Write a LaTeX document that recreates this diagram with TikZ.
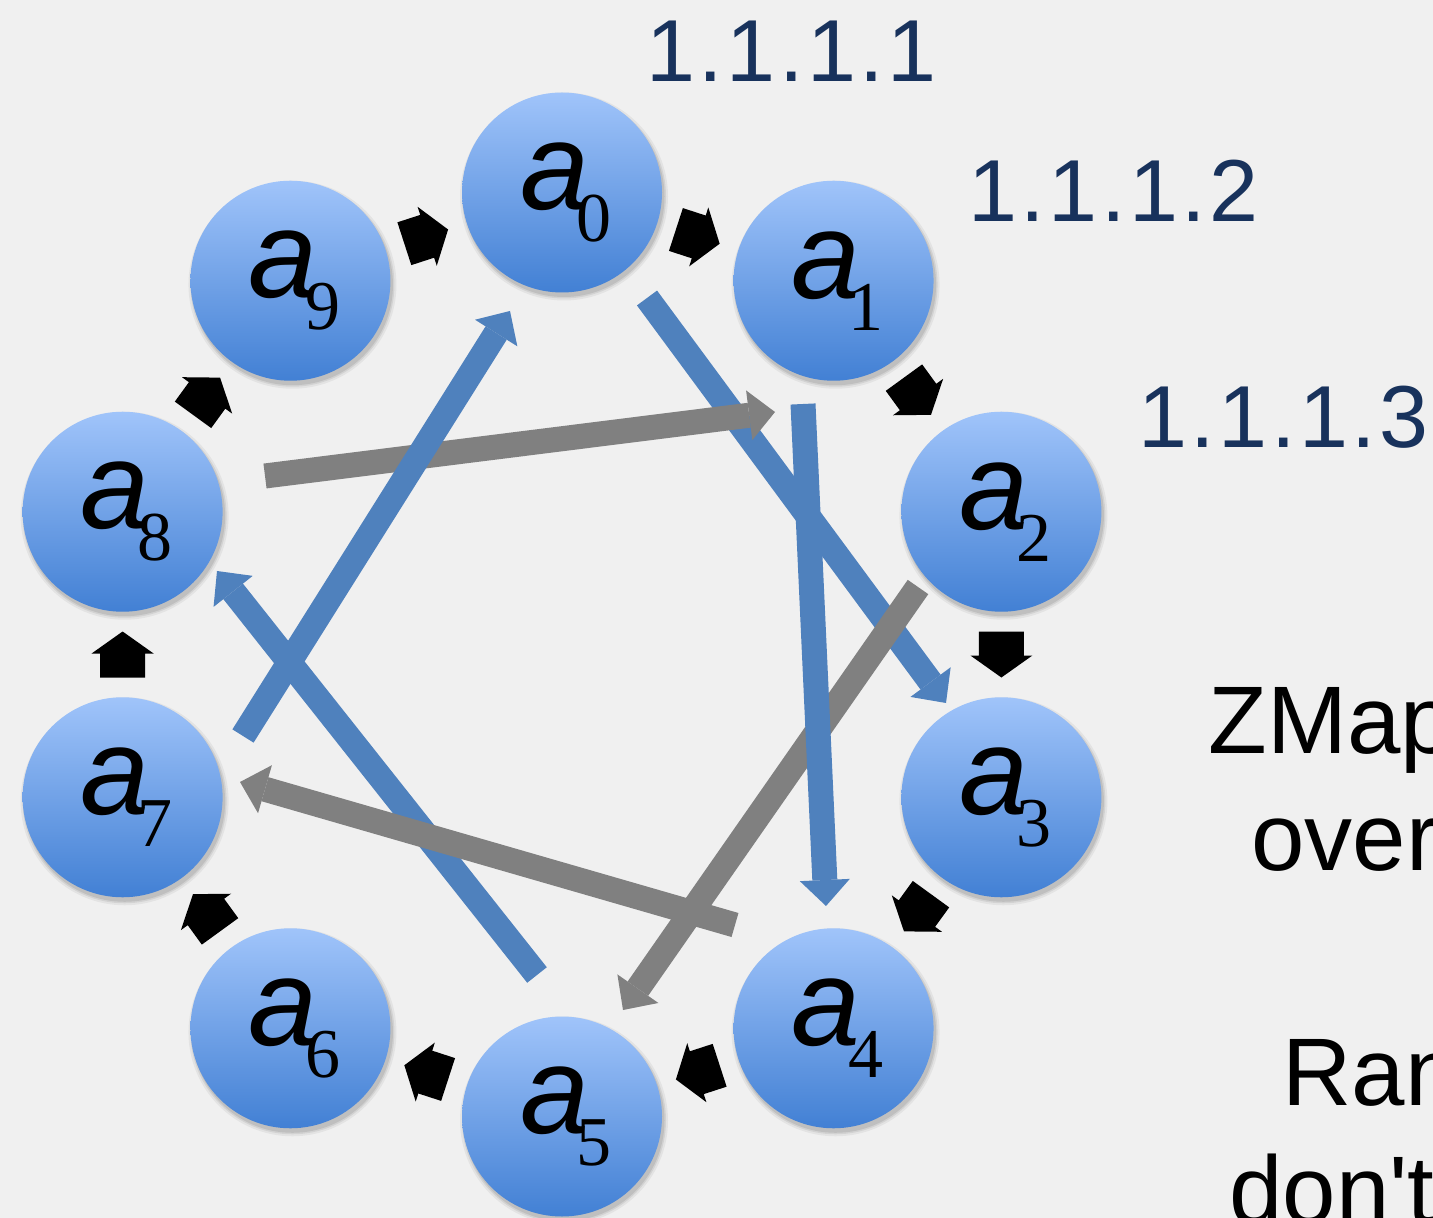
\documentclass[tikz,border=0pt]{standalone}
\usepackage{fontspec}
\setmainfont{Liberation Sans}
\newfontfamily\digitfont{Liberation Serif}
\usetikzlibrary{arrows.meta,calc}

\definecolor{bgcol}{RGB}{240,240,240}
\definecolor{balltop}{RGB}{160,196,250}
\definecolor{ballbot}{RGB}{66,128,212}
\definecolor{linkblue}{RGB}{79,129,189}
\definecolor{linkgray}{RGB}{128,128,128}
\definecolor{addrnavy}{RGB}{24,50,92}

% italic sans "a" with a serif digit hanging below as subscript
\newcommand\ballname[1]{\kern4pt{\fontsize{62pt}{62pt}\selectfont\itshape a}\kern-6pt\raisebox{-16pt}{\digitfont\fontsize{35pt}{35pt}\selectfont #1}}

\tikzset{
  ball/.style={circle, minimum size=100pt, inner sep=0pt, outer sep=0pt,
    top color=balltop, bottom color=ballbot, text=black},
  blockarrow/.style={fill=black},
  hoplink/.style={line width=12.5pt, -{Triangle[width=25pt,length=13pt,line width=0pt]}},
  bluelink/.style={hoplink, draw=linkblue},
  graylink/.style={hoplink, draw=linkgray},
  addr/.style={anchor=base west, inner sep=0pt, text=addrnavy,
    font=\fontsize{44pt}{44pt}\selectfont\addfontfeature{LetterSpace=4}},
  note/.style={anchor=base west, inner sep=0pt, text=black,
    font=\fontsize{48pt}{48pt}\selectfont},
}

\begin{document}
\begin{tikzpicture}[x=0.5pt, y=-0.5pt]
  % canvas
  \useasboundingbox (0,0) rectangle (1433,1218);
  \fill[bgcol] (0,0) rectangle (1433,1218);
  \clip (0,0) rectangle (1433,1218);

  % soft shadows under the ring of balls
  \foreach \k in {0,...,9} {
    \foreach \r/\o in {104/0.05,102/0.07,100.5/0.09}
      \fill[black, opacity=\o] ({562+462*cos(90-36*\k)+2}, {654.5-462*sin(90-36*\k)+4}) circle[radius=\r];
  }

  % the ring of ten addresses
  \foreach \k in {0,...,9}
    \node[ball] (a\k) at ({562+462*cos(90-36*\k)}, {654.5-462*sin(90-36*\k)}) {\ballname{\k}};

  % iteration order around the ring: a block arrow half way between neighbours
  \foreach \i/\j in {0/1,1/2,2/3,3/4,4/5,5/6,6/7,7/8,8/9,9/0}
    \fill[blockarrow, shift={($(a\i)!0.5!(a\j)$)}, rotate={-36*\i-18}]
      (-23,-22.5) -- (1,-22.5) -- (1,-31) -- (23,0) -- (1,31) -- (1,22.5) -- (-23,22.5) -- cycle;

  % end points of the jumps across the ring
  \coordinate (j70s) at (243,736);  \coordinate (j70e) at (510,311);
  \coordinate (j03s) at (647,298);  \coordinate (j03e) at (946,703);
  \coordinate (j14s) at (803,404);  \coordinate (j14e) at (826,906);
  \coordinate (j58s) at (537,975);  \coordinate (j58e) at (217,571);
  \coordinate (j81s) at (265,476);  \coordinate (j81e) at (775,412);
  \coordinate (j25s) at (918,587);  \coordinate (j25e) at (623,1010);
  \coordinate (j47s) at (735,925);  \coordinate (j47e) at (240,782);

  % jumps, back to front
  \draw[bluelink] (j03s) -- (j03e);
  \draw[bluelink] (j58s) -- (j58e);
  \draw[graylink] (j25s) -- (j25e);
  \draw[graylink] (j47s) -- (j47e);
  \draw[graylink] (j81s) -- (j81e);
  \draw[bluelink] (j14s) -- (j14e);
  \draw[bluelink] (j70s) -- (j70e);

  % addresses
  \node[addr] (ip1) at (646,82)   {1.1.1.1};
  \node[addr] (ip2) at (968,222)  {1.1.1.2};
  \node[addr] (ip3) at (1138,448) {1.1.1.3};

  % notes at the right edge
  \node[note] (n1) at (1208,753)  {ZMap};
  \node[note] (n2) at (1251,870)  {over};
  \node[note] (n3) at (1282,1105) {Ran};
  \node[note] (n4) at (1229,1223) {don\textquotesingle t};
\end{tikzpicture}
\end{document}
